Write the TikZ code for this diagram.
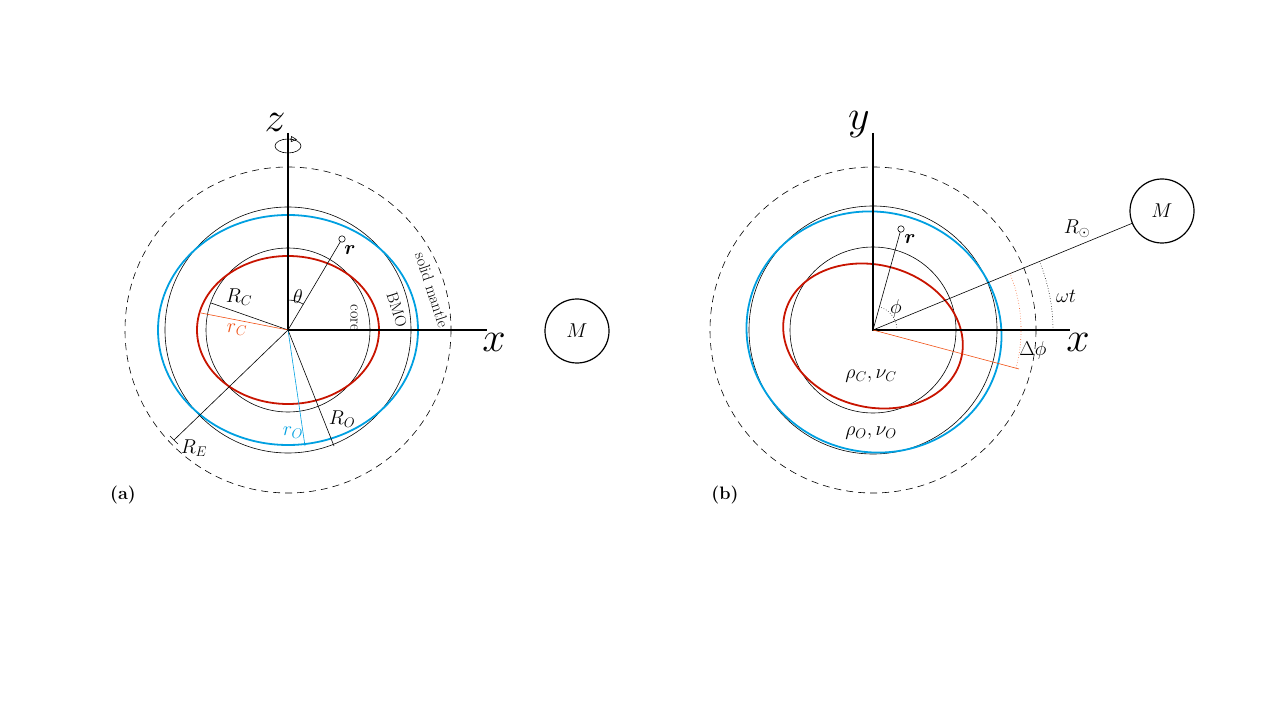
\RequirePackage{fix-cm}
\documentclass[tikz,border=0pt]{standalone}
\usepackage{amsmath,bm}
\usetikzlibrary{arrows.meta,calc}
\definecolor{myblue}{RGB}{0,160,225}
\definecolor{myred}{RGB}{200,20,0}
\definecolor{myor}{RGB}{240,80,20}
\begin{document}
\begin{tikzpicture}[x=1pt,y=-1pt,
  lab/.style={font=\fontsize{20}{24}\selectfont,inner sep=1pt},
  small/.style={font=\fontsize{16}{19}\selectfont,inner sep=1pt},
  axlab/.style={font=\fontsize{42}{48}\selectfont,inner sep=0pt},
  axis/.style={line width=2.4pt},
  thin/.style={line width=0.6pt}]
\useasboundingbox (0,0) rectangle (1277,719);
% ---------- (a)
\coordinate (A) at (288,330);
\draw[dashed,dash pattern=on 7pt off 5pt,thin] (A) circle (163);
\draw[thin] (A) circle (123);
\draw[thin] (A) circle (82);
\draw[myblue,line width=1.8pt] (A) ellipse [x radius=130,y radius=115];
\draw[myred,line width=1.8pt] (A) ellipse [x radius=91,y radius=74];
\draw[axis] (288,133) -- (A) -- (487,330);
\node[axlab] (za) at (275,122) {$z$};
\node[axlab] (xa) at (494,342) {$x$};
\draw[thin] (288,146) ellipse [x radius=13,y radius=7];
\draw[thin,-{Triangle[open,length=6pt,width=6pt]}] (290,139) -- (297,139.5);
\coordinate (ra) at (342,239);
\draw[thin] (A) -- (ra);
\draw[thin,fill=white] (ra) circle (3.2);
\node[lab] at (350,250) {$\bm r$};
\draw[thin] (288,300) arc (-90:-59:30);
\node[lab] at (298,297) {$\theta$};
\draw[thin] (A) -- (211,303);
\node[lab] at (239,297) {$R_C$};
\draw[myor,thin] (A) -- (201,313);
\node[lab,text=myor] at (237,330) {$r_C$};
\coordinate (RE) at (174,440);
\draw[thin] (A) -- (RE);
\draw[thin] ($(RE)+(-4,-4)$) -- ($(RE)+(4,4)$);
\node[lab] at (194,448) {$R_E$};
\draw[myblue,thin] (A) -- (305,446);
\node[lab,text=myblue] at (293,433) {$r_O$};
\draw[thin] (A) -- (334,446);
\node[lab] at (342,419) {$R_O$};
\node[small,rotate=-90] at (354,318) {core};
\node[small,rotate=-72] at (397,310) {BMO};
\node[small,rotate=-72] at (432,290) {solid mantle};
\node[lab] (M1) at (577,331) [circle,draw,line width=1.2pt,minimum size=64pt] {$M$};
\node[lab,font=\fontsize{18}{22}\selectfont\bfseries] at (123,495) {(a)};
% ---------- (b)
\coordinate (B) at (873,330);
\draw[dashed,dash pattern=on 7pt off 5pt,thin] (B) circle (163);
\draw[thin] (B) circle (124);
\draw[thin] (B) circle (83);
\draw[myblue,line width=1.8pt,rotate around={-15:(874,332)}] (874,332) ellipse [x radius=128,y radius=120];
\draw[myred,line width=1.8pt,rotate around={-15:(873,336)}] (873,336) ellipse [x radius=91,y radius=71];
\draw[axis] (873,133) -- (B) -- (1070,330);
\node[axlab] (yb) at (859,125) {$y$};
\node[axlab] (xb) at (1078,342) {$x$};
\node[lab] (M2) at (1162,211) [circle,draw,line width=1.2pt,minimum size=64pt] {$M$};
\draw[thin] (B) -- (M2);
\node[lab] at (1077,229) {$R_\odot$};
\draw[myor,thin] (B) -- (1019,369);
\coordinate (rb) at (901,229);
\draw[thin] (B) -- (rb);
\draw[thin,fill=white] (rb) circle (3.2);
\node[lab] at (910,239) {$\bm r$};
\draw[thin,dotted] (897,330) arc (0:-74:24);
\node[lab] at (896,308) {$\phi$};
\draw[thin,dotted] (1053,330) arc (0:-22.4:180);
\node[lab] at (1066,296) {$\omega t$};
\draw[myor,thin,dotted] (1016,368) arc (15:-22.4:148);
\node[lab] at (1033,350) {$\Delta\phi$};
\node[lab] at (871,376) {$\rho_C,\nu_C$};
\node[lab] at (871,433) {$\rho_O,\nu_O$};
\node[lab,font=\fontsize{18}{22}\selectfont\bfseries] at (725,495) {(b)};
\end{tikzpicture}
\end{document}
